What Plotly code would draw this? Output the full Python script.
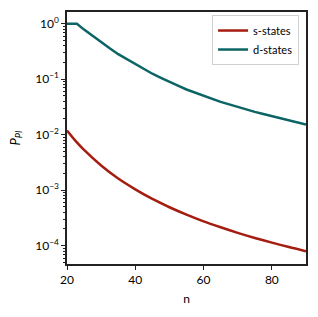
import plotly.graph_objects as go

n_s = [20, 22.5, 25, 30, 35, 40, 45, 50, 55, 60, 65, 70, 75, 80, 85, 90]
p_s = [0.01194, 0.00776, 0.00531, 0.00279, 0.00162, 0.001035, 0.000695, 0.000493,
       0.000363, 0.000275, 0.000215, 0.0001706, 0.000138, 0.0001135, 0.0000944, 0.0000796]

n_d = [20, 21, 22, 22.9, 25, 27.5, 30, 32.5, 35, 37.5, 40, 42.5, 45, 47.5, 50, 52.5,
       55, 57.5, 60, 62.5, 65, 67.5, 70, 72.5, 75, 77.5, 80, 82.5, 85, 87.5, 90]
p_d = [1.0, 1.0, 1.0, 1.0, 0.785, 0.600, 0.457, 0.362, 0.283, 0.230, 0.1845, 0.1529,
       0.1256, 0.1062, 0.0889, 0.0766, 0.0653, 0.0573, 0.0498, 0.0443, 0.0391, 0.0352,
       0.0315, 0.0286, 0.0258, 0.0236, 0.0215, 0.0197, 0.0180, 0.0166, 0.0153]

y_tick_vals = [1e-4, 1e-3, 1e-2, 1e-1, 1e0]
y_tick_text = ["10<sup>\u22124</sup>", "10<sup>\u22123</sup>", "10<sup>\u22122</sup>",
               "10<sup>\u22121</sup>", "10<sup>0</sup>"]
x_tick_vals = [20, 40, 60, 80]

minor_vals = [m * 10 ** e for e in range(-5, 1) for m in range(2, 10)]

FONT = "Lato"

fig = go.Figure()
fig.add_trace(go.Scatter(x=n_s, y=p_s, mode="lines", name="s-states",
                         line=dict(color="#a51c10", width=2.5, shape="spline", smoothing=0.8)))
fig.add_trace(go.Scatter(x=n_d, y=p_d, mode="lines", name="d-states",
                         line=dict(color="#0d6464", width=2.5)))

fig.update_layout(
    template="none",
    width=318, height=317,
    margin=dict(l=67, r=12, t=12, b=53, autoexpand=False),
    paper_bgcolor="white", plot_bgcolor="white",
    font=dict(family=FONT, size=12, color="black"),
    showlegend=True,
    legend=dict(x=0.971, y=0.988, xanchor="right", yanchor="top",
                bgcolor="white", bordercolor="#d0d0d0", borderwidth=1,
                font=dict(family=FONT, size=11), tracegroupgap=0,
                itemwidth=30),
)
fig.update_xaxes(
    automargin=False,
    range=[20, 90], tickvals=x_tick_vals, ticks="outside", ticklen=4, tickwidth=1.2,
    tickcolor="#222",
    showline=True, linecolor="#222", linewidth=1.5, mirror=True, showgrid=False,
    zeroline=False, title=dict(text="n", font=dict(size=12), standoff=8),
    tickfont=dict(size=12),
)
fig.update_yaxes(
    automargin=False,
    type="log", range=[-4.33, 0.212], tickvals=y_tick_vals, ticktext=y_tick_text,
    ticks="outside", ticklen=4, tickwidth=1.2, tickcolor="#222",
    minor=dict(tickvals=minor_vals, ticks="outside", ticklen=2, tickwidth=0.8,
               tickcolor="#222", showgrid=False),
    showline=True, linecolor="#222", linewidth=1.5, mirror=True, showgrid=False,
    zeroline=False, tickfont=dict(size=12),
    title=dict(text="<i>P</i><sub><i>PI</i></sub>", font=dict(size=13), standoff=12),
)

fig.write_html("out.html", config={"displayModeBar": False},
               post_script="document.body.style.margin='0px';")
